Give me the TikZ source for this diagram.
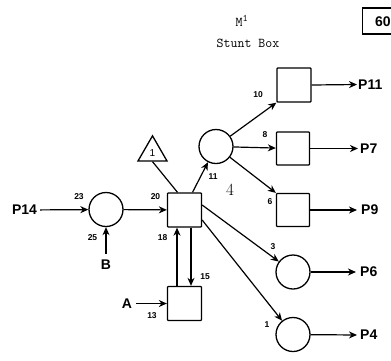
\documentclass[tikz,border=0pt]{standalone}
\usepackage{fontspec}
\newfontfamily\labfont{Liberation Sans}
\usetikzlibrary{arrows.meta,shapes.geometric}
\tikzset{
  sq/.style={draw,line width=1.3pt,minimum size=33pt,inner sep=0pt,rounded corners=0.8pt},
  rd/.style={draw,circle,line width=1.3pt,minimum size=34pt,inner sep=0pt},
  conn/.style={line width=1.2pt,-{Stealth[length=8pt,width=7pt,inset=2.5pt]}},
  plain/.style={line width=1.2pt},
  big/.style={font=\labfont\bfseries\fontsize{14}{14}\selectfont,inner sep=2pt},
  small/.style={font=\labfont\bfseries\fontsize{8.5}{8.5}\selectfont,inner sep=0pt},
  tt/.style={font=\ttfamily\fontsize{13.5}{13.5}\selectfont,inner sep=0pt}
}
\begin{document}
\begin{tikzpicture}[x=1pt,y=-1pt]
\useasboundingbox (0,0) rectangle (391,360);
\clip (0,0) rectangle (391,360);
% title
\node[tt] (mtitle) at (242,21) {M\textsuperscript{\fontsize{10}{10}\selectfont 1}};
\node[tt] (stunt) at (248,43) {Stunt Box};
\draw[line width=1.8pt] (362.5,8) rectangle (420,34);
\node[big,anchor=west,inner sep=0pt] (sixty) at (375,22) {60};
% nodes
\node[rd] (c23) at (106,209.5) {};
\node[sq,minimum size=34pt] (b20) at (184.5,210) {};
\node[sq,minimum size=34pt] (b13) at (184.5,303.5) {};
\node[draw,regular polygon,regular polygon sides=3,minimum size=33.5pt,inner sep=0pt,line width=1.3pt] (tri) at (152.5,152.6) {};
\node[font=\labfont\fontsize{10}{10}\selectfont,inner sep=0pt] (tri1) at (152.5,153) {1};
\node[rd] (c11) at (216,146.5) {};
\node[sq,minimum size=34pt] (bp11) at (294,85) {};
\node[sq] (bp7) at (293,148.5) {};
\node[sq] (bp9) at (293,210) {};
\node[rd] (cp6) at (293,272) {};
\node[rd] (cp4) at (293,334.5) {};
% text nodes
\node[big,inner sep=3pt] (p14) at (24.5,210) {P14};
\node[big] (bB) at (106,265) {B};
\node[big,inner sep=4pt] (aA) at (127,303.5) {A};
\node[big,anchor=west,inner sep=0pt] (p11) at (358,84.5) {P11};
\node[big,anchor=west,inner sep=0pt] (p7) at (360,148.5) {P7};
\node[big,anchor=west,inner sep=0pt] (p9) at (361,210) {P9};
\node[big,anchor=west,inner sep=0pt] (p6) at (360,272) {P6};
\node[big,anchor=west,inner sep=0pt] (p4) at (360,335) {P4};
% small labels
\node[small] (l23) at (79,197) {23};
\node[small] (l25) at (92.5,237.5) {25};
\node[small] (l20) at (155.5,197) {20};
\node[small] (l18) at (162.5,237.5) {18};
\node[small] (l15) at (205,277) {15};
\node[small] (l13) at (152,316) {13};
\node[small] (l11) at (213,177) {11};
\node[small] (l10) at (258,95) {10};
\node[small] (l8) at (265,135) {8};
\node[small] (l6) at (270,202) {6};
\node[small] (l3) at (273,247) {3};
\node[small] (l1) at (267,325) {1};
\node[font=\fontsize{17}{17}\selectfont,inner sep=0pt] (hand4) at (230,190) {4};
% connectors
\draw[conn] (p14) -- (c23);
\draw[conn] ([yshift=4pt]bB.north) -- (c23);
\draw[conn] (c23) -- (b20);
\draw[plain] (tri.south) -- ([xshift=-7pt]b20.north);
\draw[conn] ([xshift=8pt]b20.north) -- (c11);
\draw[conn] ([xshift=-7.5pt]b13.north) -- ([xshift=-7.5pt]b20.south);
\draw[conn] ([xshift=6.5pt]b20.south) -- ([xshift=6.5pt]b13.north);
\draw[conn] (aA) -- (b13);
\draw[conn] (c11) -- (bp11.south west);
\draw[conn] (c11) -- (bp7);
\draw[conn] (c11) -- (bp9.north west);
\draw[conn] ([yshift=5pt]b20.east) -- (cp6);
\draw[conn] ([yshift=-10pt]b20.east) -- (cp4);
\draw[conn] (bp11.east) -- ([xshift=-1pt]p11.west);
\draw[conn] (bp7) -- ([xshift=-2pt]p7.west);
\draw[conn] (bp9) -- ([xshift=-4pt]p9.west);
\draw[conn] (cp6) -- ([xshift=-4pt]p6.west);
\draw[conn] (cp4) -- ([xshift=-3pt]p4.west);
\end{tikzpicture}
\end{document}
